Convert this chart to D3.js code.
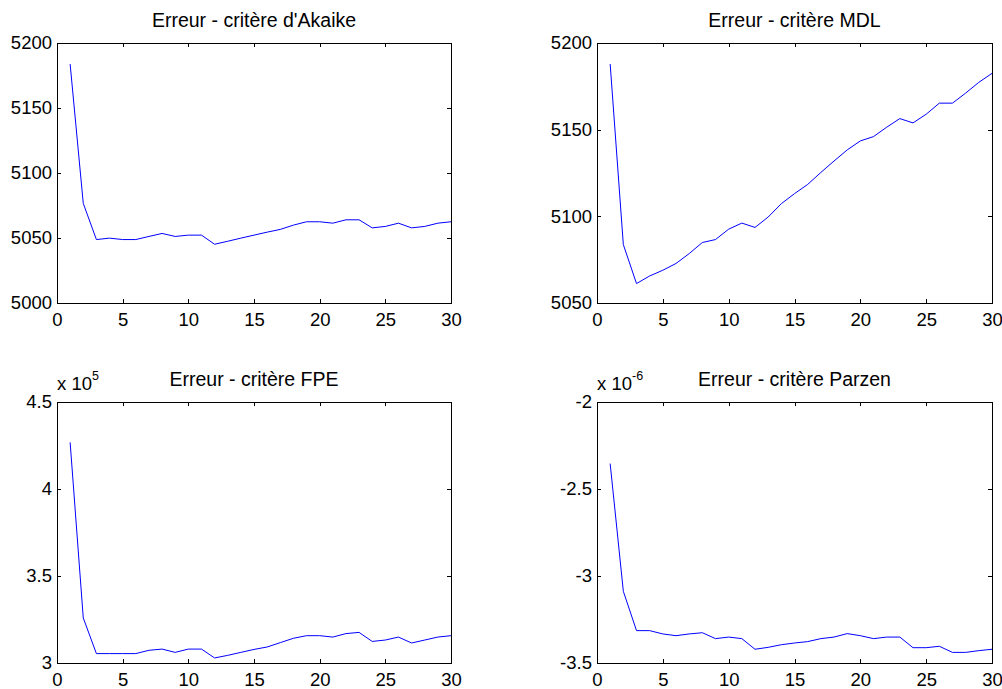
<!DOCTYPE html>
<html>
<head>
<meta charset="utf-8">
<script src="https://cdn.jsdelivr.net/npm/d3@7"></script>
<style>
  html, body { margin: 0; padding: 0; background: #fff; }
  svg { display: block; }
  text { font-family: Arial, "Liberation Sans", sans-serif; fill: #000; }
</style>
</head>
<body>
<svg id="chart" width="1002" height="689"></svg>
<script>
// ---------------- data ----------------
const orders = [1,2,3,4,5,6,7,8,9,10,11,12,13,14,15,16,17,18,19,20,21,22,23,24,25,26,27,28,29,30];

const titles = ["Erreur - critère d'Akaike", "Erreur - critère MDL", "Erreur - critère FPE", "Erreur - critère Parzen"];

const akaike = [5183.8,5076.6,5048.8,5049.9,5048.8,5048.8,5051.2,5053.5,5051.2,5052.2,
                5052.2,5045.2,5047.5,5049.9,5052.2,5054.5,5056.6,5059.9,5062.5,5062.5,
                5061.4,5064.0,5064.0,5057.8,5058.9,5061.4,5057.8,5058.9,5061.4,5062.5];

const mdl = [5187.9,5083.7,5061.2,5065.6,5068.9,5072.8,5078.5,5084.9,5086.6,5092.6,
             5096.1,5093.6,5099.6,5107.3,5113.1,5118.4,5125.3,5131.9,5138.3,5143.5,
             5146.0,5151.4,5156.4,5153.9,5158.9,5165.3,5165.3,5171.1,5177.3,5182.5];

// FPE values in units of 10^5
const fpe = [4.268,3.259,3.054,3.054,3.054,3.054,3.073,3.080,3.061,3.080,
             3.080,3.029,3.044,3.061,3.078,3.092,3.117,3.142,3.157,3.157,
             3.149,3.169,3.176,3.124,3.132,3.149,3.115,3.132,3.149,3.157];

// Parzen values in units of 10^-6
const parzen = [-2.354,-3.088,-3.314,-3.314,-3.333,-3.343,-3.333,-3.326,-3.360,-3.351,
                -3.360,-3.421,-3.410,-3.395,-3.385,-3.377,-3.360,-3.351,-3.331,-3.343,
                -3.360,-3.351,-3.351,-3.412,-3.412,-3.404,-3.439,-3.439,-3.429,-3.421];

const xTicks = [0,5,10,15,20,25,30];
const yTicksAkaike = [5000,5050,5100,5150,5200];
const yTicksMdl = [5050,5100,5150,5200];
const yTicksFpe = [3,3.5,4,4.5];
const yTicksParzen = [-3.5,-3,-2.5,-2];
const exponents = [null, null, "5", "-6"];

// ---------------- layout ----------------
const panels = [
  {values: akaike, yTicks: yTicksAkaike, box: {l: 57,  r: 451, t: 43,  b: 303}},
  {values: mdl,    yTicks: yTicksMdl,    box: {l: 597, r: 992, t: 43,  b: 303}},
  {values: fpe,    yTicks: yTicksFpe,    box: {l: 57,  r: 451, t: 402, b: 663}},
  {values: parzen, yTicks: yTicksParzen, box: {l: 597, r: 992, t: 402, b: 663}}
];

const svg = d3.select("#chart");
const FS = 18.5;
const TFS = 19.5;

panels.forEach((p, i) => {
  const w = p.box.r - p.box.l, h = p.box.b - p.box.t;
  const g = svg.append("g").attr("transform", `translate(${p.box.l},${p.box.t})`);
  const x = d3.scaleLinear().domain([xTicks[0], xTicks[xTicks.length - 1]]).range([0, w]);
  const y = d3.scaleLinear().domain([p.yTicks[0], p.yTicks[p.yTicks.length - 1]]).range([h, 0]);

  const fmt = d => String(d);

  const styleAxis = sel => {
    sel.select(".domain").remove();
    sel.selectAll("line").attr("stroke", "#000").attr("shape-rendering", "crispEdges");
    sel.selectAll("text").attr("font-size", FS).attr("font-family", "Arial, 'Liberation Sans', sans-serif").attr("fill", "#000");
  };

  g.append("g").attr("transform", `translate(0,${h})`)
    .call(d3.axisBottom(x).tickValues(xTicks).tickFormat(fmt).tickSizeInner(-4).tickSizeOuter(0).tickPadding(10))
    .call(styleAxis);
  g.append("g")
    .call(d3.axisTop(x).tickValues(xTicks).tickFormat("").tickSizeInner(-4).tickSizeOuter(0))
    .call(styleAxis);
  g.append("g")
    .call(d3.axisLeft(y).tickValues(p.yTicks).tickFormat(fmt).tickSizeInner(-4).tickSizeOuter(0).tickPadding(5))
    .call(styleAxis);
  g.append("g").attr("transform", `translate(${w},0)`)
    .call(d3.axisRight(y).tickValues(p.yTicks).tickFormat("").tickSizeInner(-4).tickSizeOuter(0))
    .call(styleAxis);

  g.append("rect").attr("x", 0.5).attr("y", 0.5).attr("width", w).attr("height", h)
    .attr("fill", "none").attr("stroke", "#000").attr("stroke-width", 1).attr("shape-rendering", "crispEdges");

  const line = d3.line().x((d, k) => x(orders[k])).y(d => y(d));
  g.append("path").datum(p.values).attr("d", line)
    .attr("fill", "none").attr("stroke", "#0000ff").attr("stroke-width", 1);

  g.append("text").attr("x", w / 2).attr("y", -16).attr("text-anchor", "middle")
    .attr("font-size", TFS).text(titles[i]);

  if (exponents[i]) {
    const t = g.append("text").attr("x", 0).attr("y", -12).attr("font-size", FS);
    t.append("tspan").text("x 10");
    t.append("tspan").attr("dy", -10).attr("font-size", 12.5).text(exponents[i]);
  }
});
</script>
</body>
</html>
